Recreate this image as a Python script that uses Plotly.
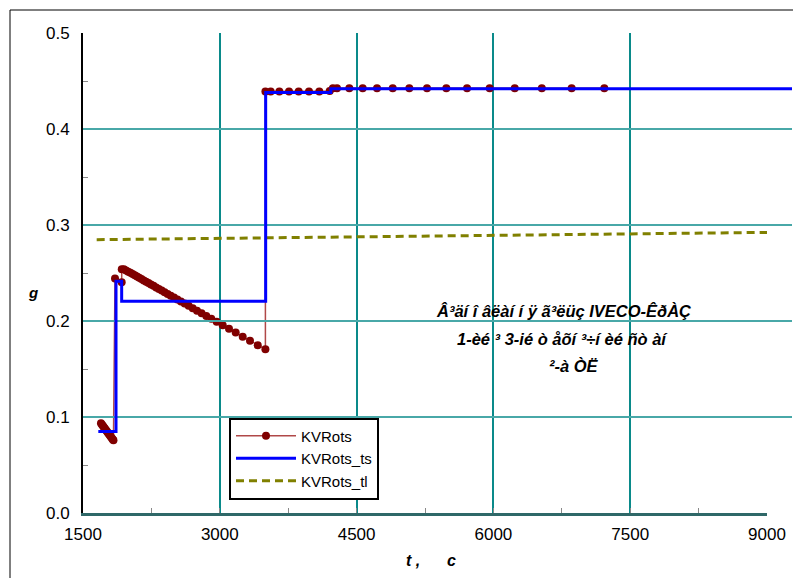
import plotly.graph_objects as go

# ---------------- data ----------------
# KVRots (points with thin line)
kv_t = [1697, 1707, 1717, 1727, 1737, 1747, 1757, 1767, 1777, 1787, 1797, 1807, 1817, 1827, 1834,
        1851, 1924,
        1925, 1948, 1972, 1996, 2020, 2044, 2068, 2092, 2116, 2141, 2166, 2192, 2218, 2245, 2273,
        2302, 2332, 2363, 2395, 2428, 2462, 2498, 2535, 2574, 2615, 2658, 2703, 2750, 2800, 2852,
        2907, 2966, 3032, 3101, 3174, 3251, 3331, 3416, 3500,
        3500, 3558, 3653, 3759, 3865, 3978, 4091, 4205, 4240, 4285, 4420, 4567, 4724, 4896, 5078,
        5272, 5484, 5711, 5959, 6234, 6531, 6858, 7216]
kv_g = [0.0935, 0.0922, 0.0909, 0.0896, 0.0883, 0.0870, 0.0857, 0.0844, 0.0831, 0.0818, 0.0805,
        0.0792, 0.0779, 0.0766, 0.0757,
        0.2443, 0.2403,
        0.2540, 0.2538, 0.2526, 0.2514, 0.2502, 0.2489, 0.2476, 0.2463, 0.2450, 0.2437, 0.2423,
        0.2409, 0.2395, 0.2381, 0.2366, 0.2350, 0.2334, 0.2317, 0.2300, 0.2282, 0.2264, 0.2244,
        0.2224, 0.2203, 0.2181, 0.2158, 0.2133, 0.2108, 0.2081, 0.2053,
        0.2023, 0.1991, 0.1956, 0.1918, 0.1879, 0.1837, 0.1794, 0.1748, 0.1705,
        0.4390, 0.4390, 0.4390, 0.4390, 0.4390, 0.4390, 0.4390, 0.4395, 0.4425, 0.4425, 0.4425,
        0.4425, 0.4425, 0.4425, 0.4425, 0.4425, 0.4425, 0.4425, 0.4425, 0.4425, 0.4425, 0.4425,
        0.4425]

# KVRots_ts (step line)
ts_t = [1668, 1862, 1924, 3503, 4218, 9400]
ts_g = [0.0850, 0.2415, 0.2205, 0.4380, 0.4418, 0.4418]

# KVRots_tl (dashed)
tl_t = [1650, 3000, 4500, 6000, 7500, 9000]
tl_g = [0.2847, 0.2861, 0.2876, 0.2892, 0.2907, 0.2923]

x_ticks = [1500, 3000, 4500, 6000, 7500, 9000]
y_ticks = [0.0, 0.1, 0.2, 0.3, 0.4, 0.5]

note_lines = ["Â³äí î âëàí í ÿ ã³ëüç IVECO-ÊðÀÇ",
              "1-èé ³ 3-ié ò åõí ³÷í èé ñò àí",
              "²-à ÒË"]

# ---------------- geometry ----------------
OFF = 8                       # page body margin
W, H = 785, 570
ML, MR, MT = 83 - OFF, 1, 33 - OFF
MB = H + OFF - 513
plot_w = W - ML - MR
ph = H - MT - MB
axis_w = 684                  # px between 1500 and 9000
dom = axis_w / plot_w
x2_end = 1500 + 7500 * plot_w / axis_w

FONT = "Liberation Sans, Arial, sans-serif"

fig = go.Figure()
fig.add_trace(go.Scatter(
    x=kv_t, y=kv_g, mode="lines+markers", name="KVRots",
    line=dict(color="#b04848", width=1.5),
    marker=dict(color="#800000", size=8),
    legendrank=1))
fig.add_trace(go.Scatter(
    x=tl_t, y=tl_g, mode="lines", name="KVRots_tl",
    line=dict(color="#808000", width=3, dash="8px,5px"),
    legendrank=3))
fig.add_trace(go.Scatter(
    x=ts_t, y=ts_g, mode="lines", name="KVRots_ts",
    line=dict(color="#0000ff", width=3, shape="hv"),
    xaxis="x2", yaxis="y", legendrank=2))

fig.update_layout(
    width=W, height=H, autosize=False,
    margin=dict(l=ML, r=MR, t=MT, b=MB, autoexpand=False),
    paper_bgcolor="white", plot_bgcolor="rgba(0,0,0,0)",
    font=dict(family=FONT, color="black"),
    xaxis=dict(domain=[0, dom], range=[1500, 9000], tickvals=x_ticks,
               ticktext=[str(v) for v in x_ticks],
               showgrid=True, gridcolor="#0a8a8a", gridwidth=1.5,
               showline=True, linecolor="#2f6868", linewidth=3,
               ticks="inside", ticklen=5, tickcolor="#888888",
               minor=dict(dtick=750, tick0=1500, ticks="inside", ticklen=5,
                          tickcolor="#888888", showgrid=False),
               tickfont=dict(size=17, family=FONT), zeroline=False,
               anchor="y", ticklabelstandoff=4, automargin=False),
    xaxis2=dict(domain=[0, 1], range=[1500, x2_end], visible=False,
                anchor="y", showgrid=False, zeroline=False, automargin=False),
    yaxis=dict(domain=[0, 1], range=[0, 0.5], tickvals=y_ticks,
               tickformat=".1f",
               showgrid=True, gridcolor="#48a8a8", gridwidth=2,
               showline=True, linecolor="black", linewidth=2,
               ticks="inside", ticklen=5, tickcolor="#888888",
               minor=dict(dtick=0.05, tick0=0, ticks="inside", ticklen=5,
                          tickcolor="#888888", showgrid=False),
               tickfont=dict(size=17, family=FONT), zeroline=False,
               anchor="x", ticklabelstandoff=8, automargin=False),
    showlegend=True,
    legend=dict(x=(229 - 83) / plot_w, y=(513 - 458.5) / ph,
                xanchor="left", yanchor="middle",
                bgcolor="white", bordercolor="black", borderwidth=2,
                font=dict(size=15, family=FONT, color="black"),
                itemwidth=60, tracegroupgap=0),
)


def px(xp):
    return (xp - 83) / plot_w


def py(yp):
    return (513 - yp) / ph


annots = [
    dict(text="<b><i>g</i></b>", x=px(33), y=py(292), font=dict(size=15)),
    dict(text="<b><i>t\u00a0,\u00a0\u00a0\u00a0\u00a0\u00a0\u00a0c</i></b>", x=px(431), y=py(560),
         font=dict(size=16)),
    dict(text="<b><i>" + note_lines[0] + "</i></b>", x=px(563.5), y=py(311), font=dict(size=16.5)),
    dict(text="<b><i>" + note_lines[1] + "</i></b>", x=px(562.5), y=py(339), font=dict(size=16.5)),
    dict(text="<b><i>" + note_lines[2] + "</i></b>", x=px(574), y=py(366), font=dict(size=16.5)),
]
for a in annots:
    fig.add_annotation(xref="paper", yref="paper", showarrow=False,
                       xanchor="center", yanchor="middle", **a)

fig.add_shape(type="rect", xref="paper", yref="paper",
              x0=px(10), x1=px(820), y0=py(620), y1=py(10),
              line=dict(color="black", width=1), layer="above")

fig.write_html("out.html")
